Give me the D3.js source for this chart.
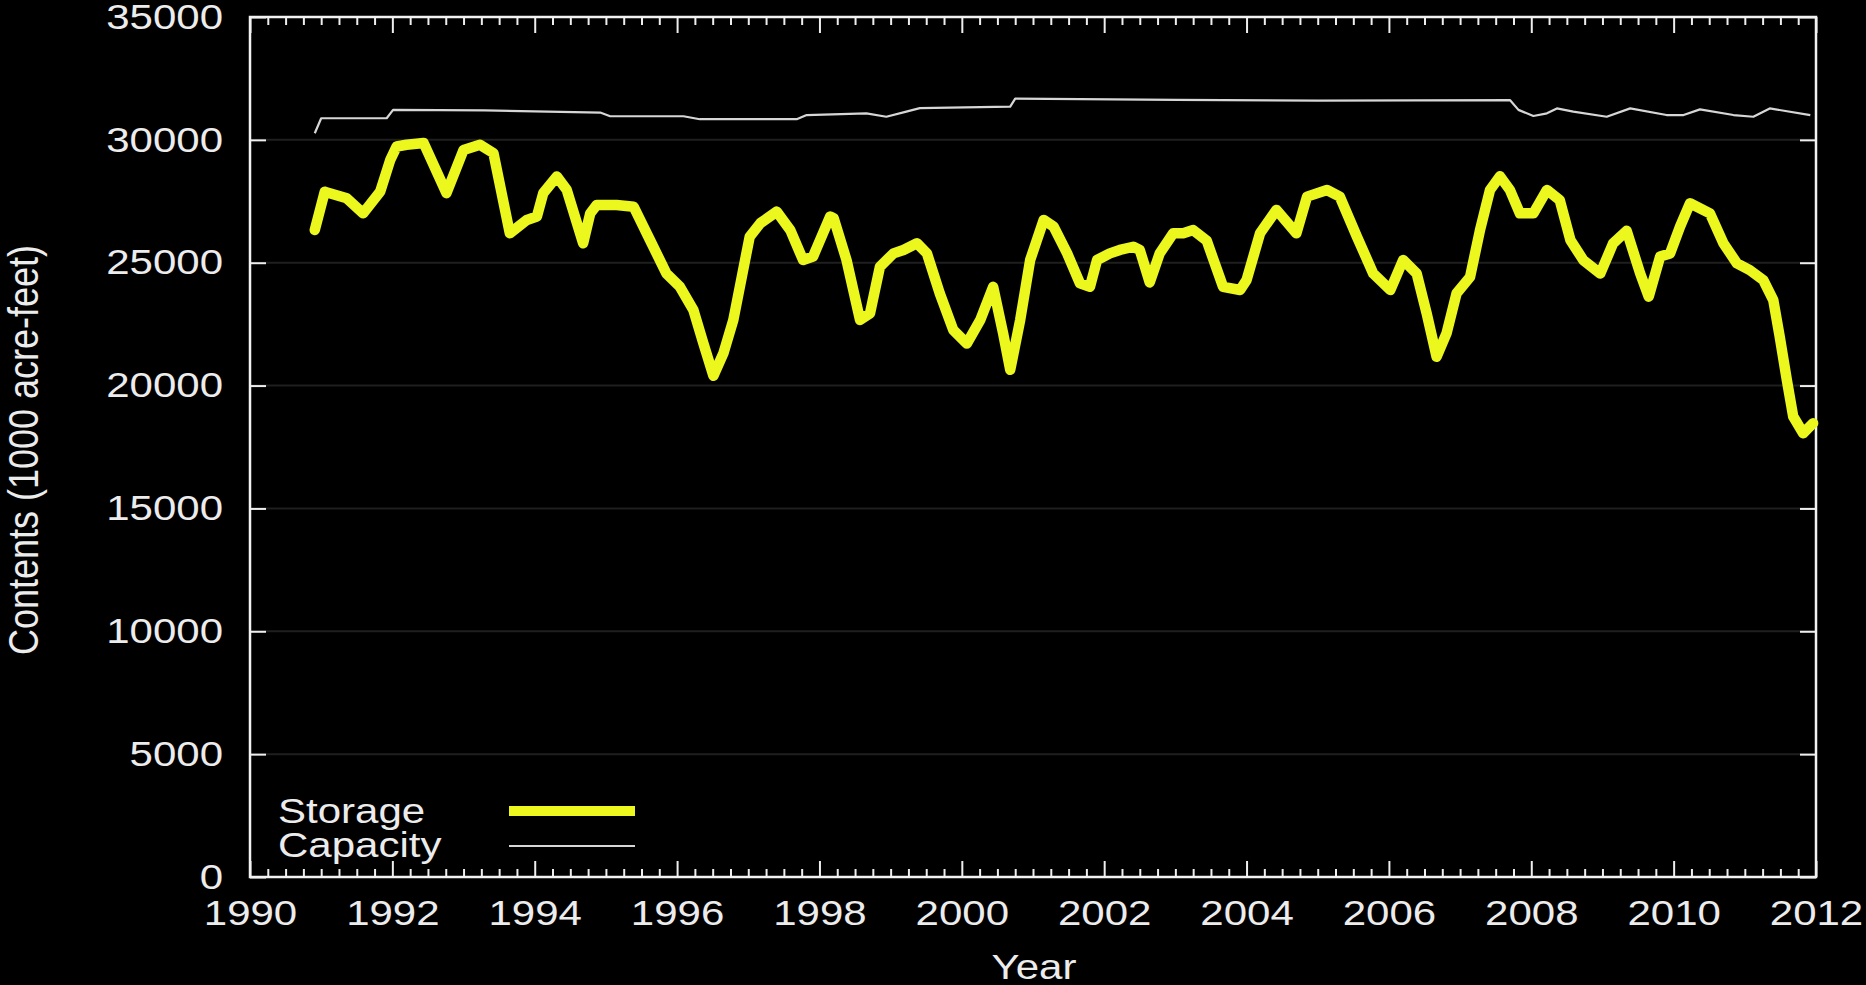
<!DOCTYPE html>
<html>
<head>
<meta charset="utf-8">
<script src="https://cdn.jsdelivr.net/npm/d3@7"></script>
<style>
  html, body { margin: 0; padding: 0; background: #000; }
  svg { display: block; }
  text { font-family: "Liberation Sans", Arial, Helvetica, sans-serif; fill: #ececec; }
</style>
</head>
<body>
<svg id="chart" width="1866" height="985"></svg>
<script>
// ---- Data ----
const storageYears = [1990.91,1991.05,1991.12,1991.36,1991.59,1991.83,1991.97,1992.06,1992.20,1992.44,1992.76,1993.00,1993.23,1993.42,1993.65,1993.89,1994.03,1994.12,1994.31,1994.45,1994.68,1994.78,1994.87,1995.15,1995.39,1995.62,1995.85,1996.04,1996.23,1996.37,1996.51,1996.65,1996.79,1997.02,1997.17,1997.40,1997.59,1997.77,1997.91,1998.15,1998.20,1998.38,1998.57,1998.71,1998.85,1999.04,1999.18,1999.37,1999.51,1999.69,1999.88,2000.07,2000.26,2000.44,2000.58,2000.68,2000.82,2000.96,2001.15,2001.29,2001.48,2001.66,2001.80,2001.90,2002.08,2002.22,2002.41,2002.50,2002.64,2002.78,2002.97,2003.11,2003.25,2003.44,2003.67,2003.91,2004.00,2004.19,2004.42,2004.70,2004.85,2005.13,2005.31,2005.55,2005.78,2006.02,2006.20,2006.39,2006.53,2006.67,2006.81,2006.95,2007.14,2007.28,2007.42,2007.56,2007.70,2007.84,2008.03,2008.22,2008.40,2008.55,2008.73,2008.97,2009.15,2009.34,2009.53,2009.65,2009.81,2009.95,2010.09,2010.23,2010.51,2010.70,2010.89,2011.07,2011.26,2011.40,2011.49,2011.59,2011.68,2011.82,2011.96];
const storageValues = [26330,27890,27830,27620,27010,27900,29180,29730,29800,29870,27830,29590,29800,29460,26200,26740,26880,27830,28510,27960,25790,27010,27350,27350,27280,25920,24560,24020,23070,21710,20400,21310,22670,26060,26610,27080,26330,25110,25250,26880,26810,25110,22670,22940,24840,25380,25520,25790,25380,23750,22260,21710,22670,24020,22130,20640,22670,25110,26740,26470,25380,24160,24020,25110,25380,25520,25650,25520,24200,25380,26200,26200,26330,25900,24020,23890,24290,26200,27150,26200,27690,27960,27690,26060,24560,23890,25110,24560,22940,21170,22130,23750,24420,26330,27960,28520,27960,27010,27010,27960,27550,25920,25110,24560,25790,26300,24560,23620,25250,25380,26470,27420,27010,25790,24970,24700,24290,23480,21990,20230,18740,18060,18470];

const capacityYears = [1990.91,1991.00,1991.92,1992.01,1993.30,1994.92,1995.06,1996.09,1996.32,1997.68,1997.82,1998.66,1998.94,1999.22,1999.41,2000.68,2000.75,2003.00,2005.00,2007.70,2007.82,2008.03,2008.22,2008.36,2008.59,2009.06,2009.39,2009.90,2010.14,2010.37,2010.84,2011.12,2011.35,2011.92];
const capacityValues = [30270,30880,30880,31220,31200,31110,30960,30960,30840,30840,31010,31080,30940,31150,31290,31350,31680,31630,31600,31620,31220,30970,31080,31280,31150,30940,31280,31010,31010,31240,31010,30940,31280,31010];

const xTicks = [1990,1992,1994,1996,1998,2000,2002,2004,2006,2008,2010,2012];
const yTicks = [0,5000,10000,15000,20000,25000,30000,35000];
const seriesNames = ["Storage","Capacity"];
const xLabel = "Year";
const yLabel = "Contents (1000 acre-feet)";

// ---- Layout ----
const L = 250, R = 1816, T = 17, B = 877;
const STRETCH = 1.2;
const svg = d3.select("#chart");
svg.append("rect").attr("width",1866).attr("height",985).attr("fill","#000");

const x = d3.scaleLinear().domain([1990,2012]).range([L,R]);
const y = d3.scaleLinear().domain([0,35000]).range([B,T]);

// faint gridlines
svg.append("g").selectAll("line").data(yTicks.slice(1,-1)).join("line")
  .attr("x1",L).attr("x2",R).attr("y1",d=>y(d)).attr("y2",d=>y(d))
  .attr("stroke","#1f1f1f").attr("stroke-width",2);

const minorX = d3.range(1990, 2012.001, 0.25).filter(v => Math.abs(v - Math.round(v/2)*2) > 1e-6);

function styleAxis(g){
  g.select(".domain").remove();
  g.selectAll(".tick line").attr("stroke","#eeeeee").attr("stroke-width",2);
  g.selectAll("text").attr("fill","#ececec").style("font-size","35px")
    .style("font-family",'"Liberation Sans", Arial, Helvetica, sans-serif');
}

// bottom axis
svg.append("g").attr("transform",`translate(0,${B})`)
  .call(d3.axisBottom(x).tickValues(xTicks).tickFormat(d3.format("d")).tickSizeInner(-16).tickSizeOuter(0).tickPadding(23))
  .call(styleAxis);
svg.append("g").attr("transform",`translate(0,${B})`)
  .call(d3.axisBottom(x).tickValues(minorX).tickFormat("").tickSizeInner(-8).tickSizeOuter(0))
  .call(styleAxis);
// top axis (mirrored ticks)
svg.append("g").attr("transform",`translate(0,${T})`)
  .call(d3.axisTop(x).tickValues(xTicks).tickFormat("").tickSizeInner(-16).tickSizeOuter(0))
  .call(styleAxis);
svg.append("g").attr("transform",`translate(0,${T})`)
  .call(d3.axisTop(x).tickValues(minorX).tickFormat("").tickSizeInner(-8).tickSizeOuter(0))
  .call(styleAxis);
// left axis
svg.append("g").attr("transform",`translate(${L},0)`)
  .call(d3.axisLeft(y).tickValues(yTicks).tickFormat(d3.format("d")).tickSizeInner(-16).tickSizeOuter(0).tickPadding(27))
  .call(styleAxis);
// right axis
svg.append("g").attr("transform",`translate(${R},0)`)
  .call(d3.axisRight(y).tickValues(yTicks).tickFormat("").tickSizeInner(-16).tickSizeOuter(0))
  .call(styleAxis);

// frame
svg.append("rect").attr("x",L).attr("y",T).attr("width",R-L).attr("height",B-T)
  .attr("fill","none").attr("stroke","#f2f2f2").attr("stroke-width",2.5);

// lines
const storage = storageYears.map((t,i)=>({t, v: storageValues[i]}));
const capacity = capacityYears.map((t,i)=>({t, v: capacityValues[i]}));
const line = d3.line().x(d=>x(d.t)).y(d=>y(d.v));

svg.append("path").datum(capacity).attr("d",line)
  .attr("fill","none").attr("stroke","#d6d6d6").attr("stroke-width",2.2).attr("stroke-linejoin","round");
svg.append("path").datum(storage).attr("d",line)
  .attr("fill","none").attr("stroke","#ecf71e").attr("stroke-width",10.5).attr("stroke-linejoin","round").attr("stroke-linecap","round");

// legend
const leg = svg.append("g");
leg.append("text").attr("x",278).attr("y",823).style("font-size","35px").text(seriesNames[0]);
leg.append("text").attr("x",278).attr("y",857).style("font-size","35px").text(seriesNames[1]);
leg.append("line").attr("x1",509).attr("x2",635).attr("y1",811).attr("y2",811)
  .attr("stroke","#ecf71e").attr("stroke-width",10);
leg.append("line").attr("x1",509).attr("x2",635).attr("y1",846).attr("y2",846)
  .attr("stroke","#d6d6d6").attr("stroke-width",2.2);

// axis titles
svg.append("text").attr("x",1034).attr("y",979).attr("text-anchor","middle")
  .style("font-size","35px").text(xLabel);
svg.append("text").attr("text-anchor","middle")
  .attr("transform",`translate(38,450) scale(${STRETCH},1) rotate(-90)`)
  .style("font-size","36px").text(yLabel).classed("rot",true);

// horizontal stretch of non-rotated text (reference glyphs are wider)
svg.selectAll("text").filter(function(){ return !this.classList.contains("rot"); }).each(function(){
  const w = this.getComputedTextLength();
  if (w > 0) d3.select(this).attr("textLength", w*STRETCH).attr("lengthAdjust","spacingAndGlyphs");
});
</script>
</body>
</html>
